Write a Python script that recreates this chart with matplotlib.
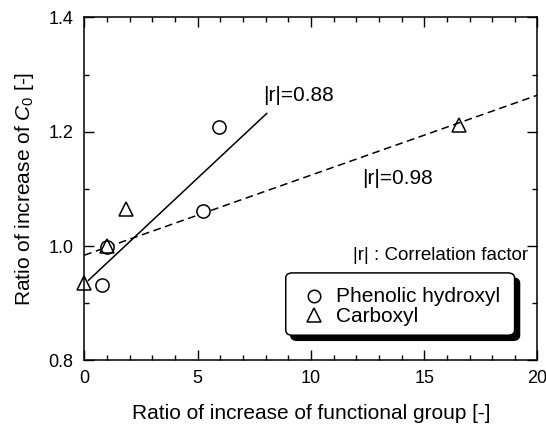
import matplotlib
matplotlib.use("Agg")
import matplotlib.pyplot as plt
import numpy as np
from matplotlib.ticker import MultipleLocator, FormatStrFormatter
from matplotlib.patches import FancyBboxPatch

plt.rcParams['font.family'] = ['Liberation Sans', 'DejaVu Sans']
plt.rcParams['mathtext.fontset'] = 'custom'
plt.rcParams['mathtext.it'] = 'Liberation Sans:italic'
plt.rcParams['mathtext.rm'] = 'Liberation Sans'

# data
phenolic_x = [0.77, 1.02, 5.25, 5.96]
phenolic_y = [0.932, 0.999, 1.062, 1.209]
carboxyl_x = [0.0, 1.02, 1.84, 16.52]
carboxyl_y = [0.935, 1.0, 1.064, 1.212]
fit_phenolic_x = [0.18, 8.05]
fit_phenolic_y = [0.94, 1.232]
fit_carboxyl_x = [0.0, 20.0]
fit_carboxyl_y = [0.984, 1.264]
x_ticks = [0, 5, 10, 15, 20]
y_ticks = [0.8, 1.0, 1.2, 1.4]

fig = plt.figure(figsize=(5.46, 4.28), dpi=100)
ax = fig.add_axes([0.1544, 0.158, 0.8300, 0.8013])

ax.plot(fit_phenolic_x, fit_phenolic_y, color='black', lw=1.1, clip_on=False)
ax.plot(fit_carboxyl_x, fit_carboxyl_y, color='black', lw=1.1, ls=(0, (5, 3)))
ax.plot(phenolic_x, phenolic_y, ls='none', marker='o', ms=9.5, mfc='white',
        mec='black', mew=1.1, label='Phenolic hydroxyl', clip_on=False, zorder=3)
ax.plot(carboxyl_x, carboxyl_y, ls='none', marker='^', ms=10.5, mfc='none',
        mec='black', mew=1.1, label='Carboxyl', clip_on=False, zorder=4)

ax.set_xlim(0, 20)
ax.set_ylim(0.8, 1.4)
ax.set_xticks(x_ticks)
ax.set_yticks(y_ticks)
ax.xaxis.set_minor_locator(MultipleLocator(1))
ax.yaxis.set_minor_locator(MultipleLocator(0.1))
ax.yaxis.set_major_formatter(FormatStrFormatter('%.1f'))
ax.tick_params(which='both', direction='in', top=True, right=True, labelsize=13, width=1)
ax.tick_params(which='major', length=7.5)
ax.tick_params(which='minor', length=3.6)
ax.tick_params(axis='y', which='major', pad=8)
ax.tick_params(axis='x', which='major', pad=7)
for s in ax.spines.values():
    s.set_linewidth(1.1)

ax.set_xlabel('Ratio of increase of functional group [-]', fontsize=15, labelpad=12)
ax.set_ylabel('Ratio of increase of $C_0$ [-]', fontsize=15, labelpad=9)

ax.text(7.88, 1.264, '|r|=0.88', fontsize=15, ha='left', va='center')
ax.text(12.24, 1.119, '|r|=0.98', fontsize=15, ha='left', va='center')
ax.text(19.6, 0.984, '|r| : Correlation factor', fontsize=13.5, ha='right', va='center')

# legend with shadow box
leg_x0, leg_y0, leg_w, leg_h = 8.89, 0.844, 10.1, 0.109
shadow = FancyBboxPatch((leg_x0 + 0.22, leg_y0 - 0.009), leg_w, leg_h,
                        boxstyle='round,pad=0,rounding_size=0.3', mutation_aspect=0.03,
                        fc='black', ec='black', lw=1, zorder=5)
box = FancyBboxPatch((leg_x0, leg_y0), leg_w, leg_h,
                     boxstyle='round,pad=0,rounding_size=0.3', mutation_aspect=0.03,
                     fc='white', ec='black', lw=1.1, zorder=6)
ax.add_patch(shadow)
ax.add_patch(box)
ax.plot([10.14], [0.913], ls='none', marker='o', ms=9, mfc='white', mec='black', mew=1.1, zorder=7)
ax.plot([10.14], [0.879], ls='none', marker='^', ms=9.5, mfc='white', mec='black', mew=1.1, zorder=7)
ax.text(11.1, 0.912, 'Phenolic hydroxyl', fontsize=15, ha='left', va='center', zorder=7)
ax.text(11.1, 0.876, 'Carboxyl', fontsize=15, ha='left', va='center', zorder=7)

fig.savefig('out.png', dpi=100)
